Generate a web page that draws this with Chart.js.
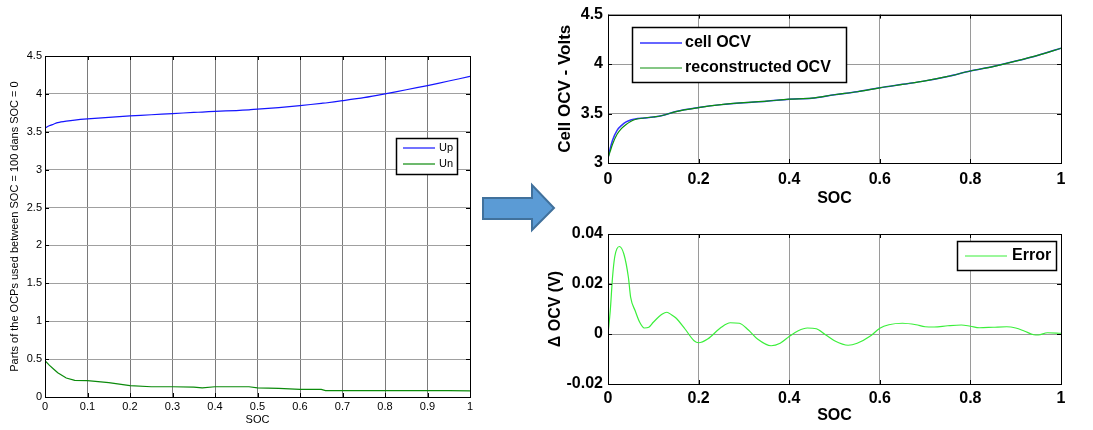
<!DOCTYPE html>
<html>
<head>
<meta charset="utf-8">
<script src="https://cdn.jsdelivr.net/npm/chart.js@4/dist/chart.umd.min.js"></script>
<style>
  body { margin: 0; background: #fff; width: 1093px; height: 430px; overflow: hidden; position: relative; }
  canvas, svg { position: absolute; }
</style>
</head>
<body>
<canvas id="ocpChart" width="480" height="390" style="left:0;top:40px"></canvas>
<svg width="90" height="60" style="left:475px;top:175px">
  <polygon points="8,23 57,23 57,10 79,33 57,55 57,44 8,44" fill="#5b9bd5" stroke="#41719c" stroke-width="2"/>
</svg>
<canvas id="ocvChart" width="548" height="210" style="left:545px;top:0"></canvas>
<canvas id="errChart" width="548" height="215" style="left:545px;top:215px"></canvas>
<script>
// Left: electrode OCPs
const ocpSoc = [0, 0.01, 0.02, 0.03, 0.05, 0.07, 0.1, 0.15, 0.2, 0.25, 0.3, 0.35, 0.37, 0.4, 0.45, 0.48, 0.5, 0.55, 0.6, 0.65, 0.66, 0.7, 0.75, 0.8, 0.85, 0.9, 0.95, 1];
const upVals = [3.55, 3.58, 3.60, 3.62, 3.64, 3.655, 3.67, 3.69, 3.71, 3.725, 3.74, 3.755, 3.76, 3.77, 3.78, 3.79, 3.80, 3.82, 3.845, 3.875, 3.88, 3.91, 3.95, 4.0, 4.055, 4.11, 4.17, 4.23];
const unVals = [0.48, 0.42, 0.37, 0.32, 0.25, 0.22, 0.215, 0.19, 0.15, 0.135, 0.135, 0.13, 0.12, 0.135, 0.135, 0.135, 0.12, 0.115, 0.10, 0.10, 0.085, 0.085, 0.085, 0.085, 0.085, 0.085, 0.085, 0.08];

// Top right: cell OCV vs reconstructed
const ocvSoc = [0, 0.005, 0.01, 0.02, 0.03, 0.04, 0.05, 0.06, 0.08, 0.1, 0.12, 0.15, 0.2, 0.25, 0.3, 0.35, 0.4, 0.45, 0.5, 0.55, 0.6, 0.65, 0.7, 0.75, 0.8, 0.85, 0.9, 0.95, 1];
const cellOcv = [3.05, 3.15, 3.23, 3.33, 3.38, 3.415, 3.435, 3.445, 3.455, 3.465, 3.48, 3.52, 3.56, 3.59, 3.61, 3.625, 3.645, 3.655, 3.69, 3.72, 3.76, 3.795, 3.83, 3.875, 3.93, 3.975, 4.03, 4.09, 4.16];
const reconOcv = [3.05, 3.12, 3.19, 3.29, 3.35, 3.39, 3.42, 3.44, 3.455, 3.465, 3.48, 3.52, 3.56, 3.59, 3.61, 3.625, 3.645, 3.655, 3.69, 3.72, 3.76, 3.795, 3.83, 3.875, 3.93, 3.975, 4.03, 4.09, 4.16];

// Bottom right: error
const errSoc = [0, 0.005, 0.01, 0.015, 0.025, 0.035, 0.045, 0.05, 0.06, 0.07, 0.08, 0.09, 0.1, 0.12, 0.13, 0.14, 0.15, 0.17, 0.19, 0.2, 0.22, 0.25, 0.27, 0.29, 0.31, 0.33, 0.36, 0.38, 0.4, 0.42, 0.44, 0.46, 0.48, 0.5, 0.53, 0.55, 0.58, 0.6, 0.62, 0.65, 0.68, 0.7, 0.72, 0.75, 0.78, 0.8, 0.82, 0.85, 0.88, 0.9, 0.92, 0.94, 0.95, 0.97, 1];
const errVals = [0, 0.0093, 0.0227, 0.031, 0.035, 0.032, 0.0227, 0.0147, 0.0093, 0.0047, 0.0024, 0.0027, 0.0047, 0.008, 0.0087, 0.0077, 0.0064, 0.002, -0.0027, -0.0035, -0.002, 0.0027, 0.0045, 0.0043, 0.0016, -0.002, -0.0047, -0.0037, -0.001, 0.0013, 0.0024, 0.0021, -0.0003, -0.0027, -0.0045, -0.0037, -0.0007, 0.0023, 0.0037, 0.0043, 0.0037, 0.0029, 0.0028, 0.0033, 0.0036, 0.0031, 0.0025, 0.0027, 0.0029, 0.0024, 0.0011, -0.0003, -0.0004, 0.0005, 0.0003];

const xy = (xs, ys) => xs.map((x, i) => ({ x: x, y: ys[i] }));
const plainTick = v => String(Number(v.toFixed(3)));

// MATLAB-style box with inward ticks, plus an in-axes legend
const boxPlugin = {
  id: 'matBox',
  afterDatasetsDraw(chart) {
    const { ctx, chartArea: a, scales } = chart;
    ctx.save();
    ctx.strokeStyle = '#000';
    ctx.lineWidth = 1;
    ctx.strokeRect(Math.round(a.left) + 0.5, Math.round(a.top) + 0.5, Math.round(a.right - a.left), Math.round(a.bottom - a.top));
    ctx.beginPath();
    scales.x.ticks.forEach(t => {
      const px = Math.round(scales.x.getPixelForValue(t.value)) + 0.5;
      ctx.moveTo(px, a.bottom); ctx.lineTo(px, a.bottom - 4);
      ctx.moveTo(px, a.top); ctx.lineTo(px, a.top + 4);
    });
    scales.y.ticks.forEach(t => {
      const py = Math.round(scales.y.getPixelForValue(t.value)) + 0.5;
      ctx.moveTo(a.left, py); ctx.lineTo(a.left + 4, py);
      ctx.moveTo(a.right, py); ctx.lineTo(a.right - 4, py);
    });
    ctx.stroke();
    ctx.restore();
  },
  afterDraw(chart) {
    const o = chart.options.plugins.matBox;
    if (!o || !o.legend) return;
    const L = o.legend, ctx = chart.ctx;
    ctx.save();
    ctx.fillStyle = '#fff';
    ctx.fillRect(L.left, L.top, L.width, L.height);
    ctx.strokeStyle = '#000';
    ctx.lineWidth = 1.5;
    ctx.strokeRect(L.left + 0.5, L.top + 0.5, L.width, L.height);
    ctx.font = L.font;
    ctx.textBaseline = 'middle';
    chart.data.datasets.forEach((ds, i) => {
      const y = L.rows[i];
      ctx.strokeStyle = ds.borderColor;
      ctx.lineWidth = ds.borderWidth;
      ctx.beginPath();
      ctx.moveTo(L.lineX1, y); ctx.lineTo(L.lineX2, y);
      ctx.stroke();
      ctx.fillStyle = '#000';
      ctx.fillText(ds.label, L.textX, y);
    });
    ctx.restore();
  }
};

function axes(opts) {
  return {
    x: {
      type: 'linear', min: 0, max: 1,
      ticks: { stepSize: opts.xStep, color: '#000', font: opts.tickFont, padding: opts.xPad, maxRotation: 0, callback: plainTick },
      grid: { color: opts.xGrid, drawTicks: false },
      border: { display: false },
      title: { display: true, text: 'SOC', color: '#000', font: opts.xTitleFont, padding: { top: 0, bottom: opts.xTitlePad } },
      afterFit: s => { s.height = opts.xHeight; }
    },
    y: {
      type: 'linear', min: opts.yMin, max: opts.yMax,
      ticks: { stepSize: opts.yStep, color: '#000', font: opts.tickFont, padding: opts.yPad, callback: plainTick },
      grid: { color: opts.yGrid, drawTicks: false },
      border: { display: false },
      title: { display: true, text: opts.yTitle, color: '#000', font: opts.yTitleFont, padding: { top: opts.yTitlePad, bottom: 0 } },
      afterFit: s => { s.width = opts.yWidth; }
    }
  };
}

new Chart(document.getElementById('ocpChart'), {
  type: 'line',
  data: {
    datasets: [
      { label: 'Up', data: xy(ocpSoc, upVals), borderColor: '#1515ff', borderWidth: 1.2, pointRadius: 0, tension: 0.2 },
      { label: 'Un', data: xy(ocpSoc, unVals), borderColor: '#0b8a0b', borderWidth: 1.2, pointRadius: 0, tension: 0 }
    ]
  },
  options: {
    responsive: false, animation: false,
    layout: { padding: { top: 16, right: 10, left: 0, bottom: 0 } },
    scales: axes({
      xStep: 0.1, yMin: 0, yMax: 4.5, yStep: 0.5,
      tickFont: { family: 'Liberation Sans', size: 11 },
      xTitleFont: { family: 'Liberation Sans', size: 11 },
      yTitleFont: { family: 'Liberation Sans', size: 11 },
      xGrid: '#7a7a7a', yGrid: '#a0a0a0',
      xPad: 3, yPad: 3, xTitlePad: 3, yTitlePad: 8,
      xHeight: 33, yWidth: 45,
      yTitle: 'Parts of the OCPs used between SOC = 100 dans SOC = 0'
    }),
    plugins: {
      legend: { display: false }, tooltip: { enabled: false },
      matBox: { legend: { left: 396, top: 98, width: 61, height: 36, lineX1: 403, lineX2: 435, textX: 439, rows: [108, 124], font: '11px "Liberation Sans"' } }
    }
  },
  plugins: [boxPlugin]
});

new Chart(document.getElementById('ocvChart'), {
  type: 'line',
  data: {
    datasets: [
      { label: 'cell OCV', data: xy(ocvSoc, cellOcv), borderColor: '#3333ff', borderWidth: 1.5, pointRadius: 0, cubicInterpolationMode: 'monotone', order: 1 },
      { label: 'reconstructed OCV', data: xy(ocvSoc, reconOcv), borderColor: '#0c900c', borderWidth: 1.2, pointRadius: 0, cubicInterpolationMode: 'monotone', order: 0 }
    ]
  },
  options: {
    responsive: false, animation: false,
    layout: { padding: { top: 14, right: 32, left: 0, bottom: 0 } },
    scales: axes({
      xStep: 0.2, yMin: 3, yMax: 4.5, yStep: 0.5,
      tickFont: { family: 'Liberation Sans', size: 16, weight: 'bold' },
      xTitleFont: { family: 'Liberation Sans', size: 16, weight: 'bold' },
      yTitleFont: { family: 'Liberation Sans', size: 17, weight: 'bold' },
      xGrid: '#9a9a9a', yGrid: '#9a9a9a',
      xPad: 7, yPad: 5, xTitlePad: 2, yTitlePad: 10,
      xHeight: 47, yWidth: 63,
      yTitle: 'Cell OCV - Volts'
    }),
    plugins: {
      legend: { display: false }, tooltip: { enabled: false },
      matBox: { legend: { left: 87, top: 27, width: 214, height: 55, lineX1: 95, lineX2: 137, textX: 140, rows: [43, 68], font: 'bold 16px "Liberation Sans"' } }
    }
  },
  plugins: [boxPlugin]
});

new Chart(document.getElementById('errChart'), {
  type: 'line',
  data: {
    datasets: [
      { label: 'Error', data: xy(errSoc, errVals), borderColor: '#3bef3b', borderWidth: 1.2, pointRadius: 0, cubicInterpolationMode: 'monotone' }
    ]
  },
  options: {
    responsive: false, animation: false,
    layout: { padding: { top: 19, right: 32, left: 0, bottom: 0 } },
    scales: axes({
      xStep: 0.2, yMin: -0.02, yMax: 0.04, yStep: 0.02,
      tickFont: { family: 'Liberation Sans', size: 16, weight: 'bold' },
      xTitleFont: { family: 'Liberation Sans', size: 16, weight: 'bold' },
      yTitleFont: { family: 'Liberation Sans', size: 16, weight: 'bold' },
      xGrid: '#9a9a9a', yGrid: '#9a9a9a',
      xPad: 5, yPad: 5, xTitlePad: 5, yTitlePad: 1,
      xHeight: 46, yWidth: 63,
      yTitle: 'Δ OCV (V)'
    }),
    plugins: {
      legend: { display: false }, tooltip: { enabled: false },
      matBox: { legend: { left: 412, top: 26, width: 99, height: 29, lineX1: 420, lineX2: 462, textX: 467, rows: [41], font: 'bold 16px "Liberation Sans"' } }
    }
  },
  plugins: [boxPlugin]
});
</script>
</body>
</html>
